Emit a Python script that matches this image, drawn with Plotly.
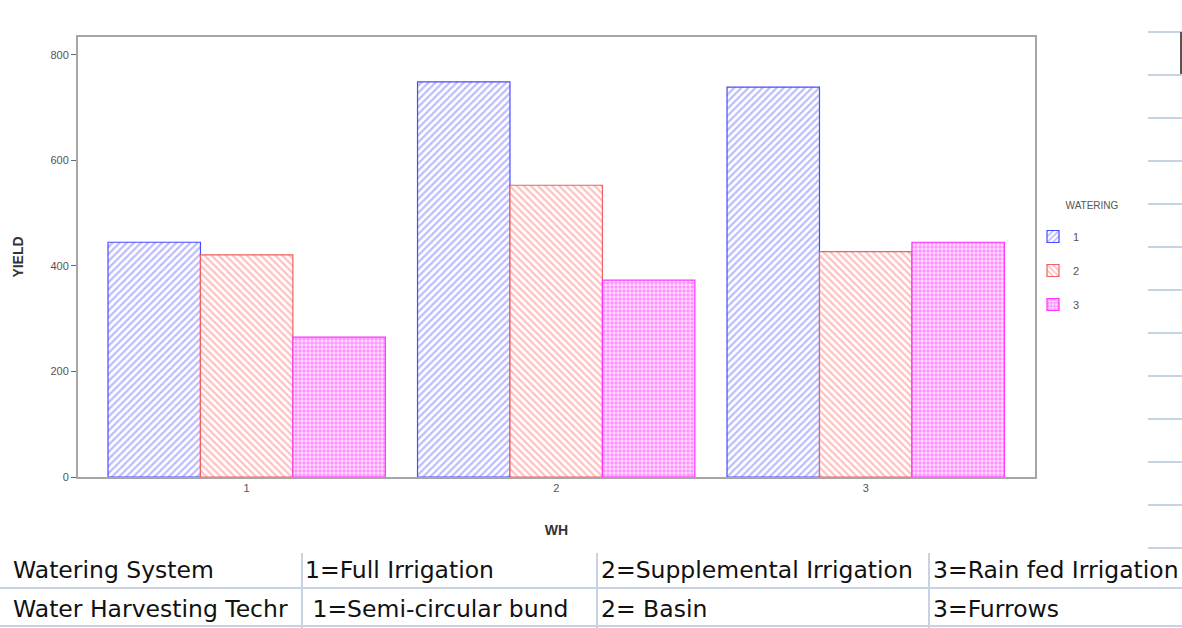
import plotly.graph_objects as go

# ---- data ----
wh_categories = ["1", "2", "3"]
watering_levels = ["1", "2", "3"]
yield_w1 = [445, 749, 739]
yield_w2 = [421, 553, 427]
yield_w3 = [265, 373, 445]
y_ticks = [0, 200, 400, 600, 800]
table_rows = [
    ["Watering System", "1=Full Irrigation", "2=Supplemental Irrigation", "3=Rain fed Irrigation"],
    ["Water Harvesting Techr", " 1=Semi-circular bund", "2= Basin", "3=Furrows"],
]

W, H = 1182, 628
L, R, T, B = 78, 1035, 37, 477


def px(xp):
    return (xp - L) / (R - L)


def py(yp):
    return (B - yp) / (B - T)


styles = [
    dict(line="#4a4aff", pat=dict(shape="/", fgcolor="#7878ff", bgcolor="white", size=5, solidity=0.45)),
    dict(line="#f06060", pat=dict(shape="\\", fgcolor="#ff8080", bgcolor="white", size=5, solidity=0.45)),
    dict(line="#ff30ff", pat=dict(shape=".", fgcolor="#ff44ff", bgcolor="#ffe0ff", size=4, solidity=0.6)),
]
series = [yield_w1, yield_w2, yield_w3]

fig = go.Figure()
for i, (lvl, vals) in enumerate(zip(watering_levels, series)):
    st = styles[i]
    fig.add_trace(go.Bar(
        x=[1, 2, 3], y=vals, name=lvl, legendgroup=lvl,
        marker=dict(color="white", pattern=st["pat"],
                    line=dict(color=st["line"], width=1.2)),
    ))

shapes = []
# right-side spreadsheet lines
for k in range(13):
    yy = 32 + 43 * k
    shapes.append(dict(type="line", xref="paper", yref="paper",
                       x0=px(1148), x1=px(1182), y0=py(yy), y1=py(yy),
                       line=dict(color="#c9d2e2", width=2)))
shapes.append(dict(type="line", xref="paper", yref="paper",
                   x0=px(1181), x1=px(1181), y0=py(32), y1=py(74),
                   line=dict(color="#555555", width=2)))
# table grid
for yy in (588, 626):
    shapes.append(dict(type="line", xref="paper", yref="paper",
                       x0=px(0), x1=px(1182), y0=py(yy), y1=py(yy),
                       line=dict(color="#c9d2e2", width=2)))
for xx in (302, 597, 929):
    shapes.append(dict(type="line", xref="paper", yref="paper",
                       x0=px(xx), x1=px(xx), y0=py(553), y1=py(628),
                       line=dict(color="#c9d2e2", width=2)))

annotations = []
col_x = [11, 303, 599, 931]
row_y = [570, 609]
for r, row in enumerate(table_rows):
    for c, txt in enumerate(row):
        annotations.append(dict(
            text=txt, xref="paper", yref="paper", x=px(col_x[c]), y=py(row_y[r]),
            xanchor="left", yanchor="middle", showarrow=False,
            font=dict(family="DejaVu Sans", size=23.5, color="#111111"),
        ))

fig.update_layout(
    width=W, height=H,
    margin=dict(l=L, r=W - R, t=T, b=H - B, pad=0),
    paper_bgcolor="white", plot_bgcolor="white",
    barmode="group", bargap=0.104, bargroupgap=0,
    font=dict(family="Liberation Sans", color="#555555", size=11),
    xaxis=dict(
        range=[0.455, 3.547], tickvals=[1, 2, 3], ticktext=wh_categories,
        showline=True, mirror=True, linecolor="#a6a6a6", linewidth=2,
        showgrid=False, zeroline=False, ticks="", tickfont=dict(size=11, color="#555555"),
        title=dict(text="<b>WH</b>", font=dict(size=14, color="#333333"), standoff=32),
    ),
    yaxis=dict(
        range=[0, 834], tickvals=y_ticks,
        showline=True, mirror=True, linecolor="#a6a6a6", linewidth=2,
        showgrid=False, zeroline=False, ticks="outside", ticklen=5, tickcolor="#666666",
        tickfont=dict(size=11, color="#555555"),
        title=dict(text="<b>YIELD</b>", font=dict(size=14, color="#333333"), standoff=24),
    ),
    legend=dict(
        x=px(1033), y=py(196), xanchor="left", yanchor="top",
        title=dict(text="&nbsp;" * 11 + "WATERING<br> ",
                   font=dict(size=10, color="#555555")),
        font=dict(size=11, color="#555555"), traceorder="grouped", tracegroupgap=15,
        bgcolor="rgba(0,0,0,0)",
    ),
    shapes=shapes, annotations=annotations,
)

fig.write_html("out.html")
